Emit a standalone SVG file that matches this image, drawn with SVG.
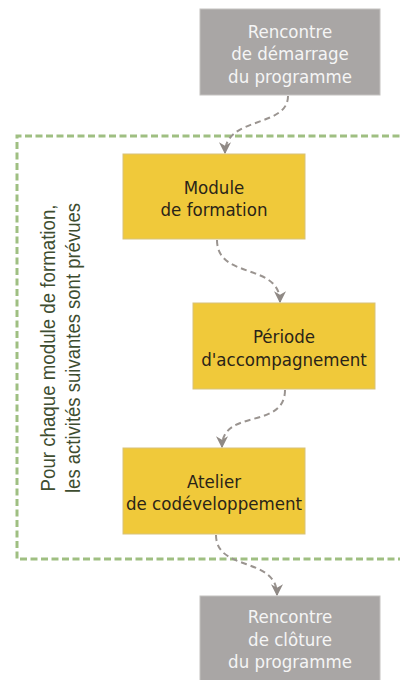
<svg xmlns="http://www.w3.org/2000/svg" width="400" height="680" viewBox="0 0 400 680">
<style>
.gray{fill:#a9a6a5;stroke:#c4c2c0;stroke-width:1}
.yel{fill:#f0c93a;stroke:#d8c27a;stroke-width:1}
.t{font-family:"DejaVu Sans Condensed","DejaVu Sans",sans-serif;font-stretch:condensed;font-size:18.5px;text-anchor:middle}
.tg{fill:#f5f5f5;font-weight:300}
.ty{fill:#2a2418}
.side{font-family:"Liberation Sans",Arial,sans-serif;font-size:19.5px;fill:#3e4d30;text-anchor:middle}
.conn{fill:none;stroke:#9a9490;stroke-width:2;stroke-dasharray:6 4}
</style>
<defs>
<marker id="arr" viewBox="0 0 10 10" refX="9" refY="5" markerWidth="6" markerHeight="6" orient="auto" markerUnits="strokeWidth">
<path d="M0,0 L10,5 L0,10 L3,5 Z" fill="#8f8985"/>
</marker>
</defs>
<g id="container">
<path d="M410,136 H17 V559 H410" fill="none" stroke="#9fbf82" stroke-width="3" stroke-dasharray="7 3.5"/>
<text class="side" transform="translate(55,348) rotate(-90)" textLength="287" lengthAdjust="spacingAndGlyphs">Pour chaque module de formation,</text>
<text class="side" transform="translate(80,348) rotate(-90)" textLength="290" lengthAdjust="spacingAndGlyphs">les activités suivantes sont prévues</text>
</g>
<g id="connectors">
<path class="conn" d="M288,96 C288,128 225,116 225,153" marker-end="url(#arr)"/>
<path class="conn" d="M217,240 C217,280 280,262 280,302" marker-end="url(#arr)"/>
<path class="conn" d="M285,390 C285,430 222,408 222,447" marker-end="url(#arr)"/>
<path class="conn" d="M216,535 C216,572 277,556 277,595" marker-end="url(#arr)"/>
</g>
<g id="start">
<rect class="gray" x="200" y="9" width="180" height="86"/>
<text class="t tg" x="290" y="37.5">Rencontre</text>
<text class="t tg" x="290" y="60">de démarrage</text>
<text class="t tg" x="290" y="82.5">du programme</text>
</g>
<g id="module">
<rect class="yel" x="123" y="154" width="182" height="85"/>
<text class="t ty" x="214" y="194">Module</text>
<text class="t ty" x="214" y="216">de formation</text>
</g>
<g id="periode">
<rect class="yel" x="193" y="303" width="182" height="86"/>
<text class="t ty" x="284" y="343">Période</text>
<text class="t ty" x="284" y="366">d'accompagnement</text>
</g>
<g id="atelier">
<rect class="yel" x="123" y="448" width="182" height="86"/>
<text class="t ty" x="214" y="488">Atelier</text>
<text class="t ty" x="214" y="510">de codéveloppement</text>
</g>
<g id="end">
<rect class="gray" x="200" y="596" width="180" height="100"/>
<text class="t tg" x="290" y="623">Rencontre</text>
<text class="t tg" x="290" y="646">de clôture</text>
<text class="t tg" x="290" y="668">du programme</text>
</g>
</svg>
